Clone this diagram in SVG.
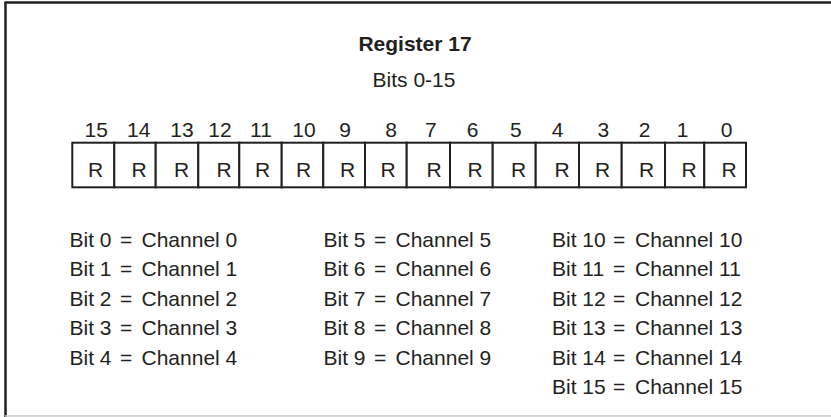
<svg xmlns="http://www.w3.org/2000/svg" width="831" height="417" viewBox="0 0 831 417">
<style>
text{font-family:"Liberation Sans",Arial,Helvetica,sans-serif;fill:#231f20;font-size:21px}
.title{font-weight:bold;text-anchor:middle}
.mid{text-anchor:middle}
.cell{fill:#fff;stroke:#231f20;stroke-width:2}
</style>
<rect x="0" y="0" width="831" height="417" fill="#fff"/>
<g id="frame">
<line x1="4.5" y1="2.5" x2="831" y2="2.5" stroke="#231f20" stroke-width="2.5"/>
<line x1="5.5" y1="2" x2="5.5" y2="417" stroke="#231f20" stroke-width="2.5"/>
<line x1="5" y1="416" x2="831" y2="416" stroke="#cccccc" stroke-width="1.5"/>
</g>
<g id="title">
<text class="title" x="415" y="51">Register 17</text>
<text class="mid" x="414" y="86.5">Bits 0-15</text>
</g>
<g id="register">
<g id="bit15"><rect class="cell" x="72.3" y="142.7" width="42" height="44.6"/><text class="mid" x="96.2" y="137.3">15</text><text class="mid" x="95.5" y="176.7">R</text></g>
<g id="bit14"><rect class="cell" x="114.3" y="142.7" width="41.4" height="44.6"/><text class="mid" x="138.8" y="137.3">14</text><text class="mid" x="139" y="176.7">R</text></g>
<g id="bit13"><rect class="cell" x="155.7" y="142.7" width="42.6" height="44.6"/><text class="mid" x="182" y="137.3">13</text><text class="mid" x="181.7" y="176.7">R</text></g>
<g id="bit12"><rect class="cell" x="198.3" y="142.7" width="41" height="44.6"/><text class="mid" x="220" y="137.3">12</text><text class="mid" x="224" y="176.7">R</text></g>
<g id="bit11"><rect class="cell" x="239.3" y="142.7" width="42.4" height="44.6"/><text class="mid" x="261" y="137.3">11</text><text class="mid" x="262.5" y="176.7">R</text></g>
<g id="bit10"><rect class="cell" x="281.7" y="142.7" width="41.6" height="44.6"/><text class="mid" x="304" y="137.3">10</text><text class="mid" x="303.5" y="176.7">R</text></g>
<g id="bit9"><rect class="cell" x="323.3" y="142.7" width="41.7" height="44.6"/><text class="mid" x="345" y="137.3">9</text><text class="mid" x="347.5" y="176.7">R</text></g>
<g id="bit8"><rect class="cell" x="365" y="142.7" width="41.7" height="44.6"/><text class="mid" x="391" y="137.3">8</text><text class="mid" x="388" y="176.7">R</text></g>
<g id="bit7"><rect class="cell" x="406.7" y="142.7" width="43.3" height="44.6"/><text class="mid" x="430.8" y="137.3">7</text><text class="mid" x="434" y="176.7">R</text></g>
<g id="bit6"><rect class="cell" x="450" y="142.7" width="42.7" height="44.6"/><text class="mid" x="472.5" y="137.3">6</text><text class="mid" x="475" y="176.7">R</text></g>
<g id="bit5"><rect class="cell" x="492.7" y="142.7" width="43" height="44.6"/><text class="mid" x="515.8" y="137.3">5</text><text class="mid" x="518.7" y="176.7">R</text></g>
<g id="bit4"><rect class="cell" x="535.7" y="142.7" width="43.3" height="44.6"/><text class="mid" x="557.5" y="137.3">4</text><text class="mid" x="562" y="176.7">R</text></g>
<g id="bit3"><rect class="cell" x="579" y="142.7" width="42.7" height="44.6"/><text class="mid" x="603.3" y="137.3">3</text><text class="mid" x="602.5" y="176.7">R</text></g>
<g id="bit2"><rect class="cell" x="621.7" y="142.7" width="43.3" height="44.6"/><text class="mid" x="644.7" y="137.3">2</text><text class="mid" x="646.7" y="176.7">R</text></g>
<g id="bit1"><rect class="cell" x="665" y="142.7" width="39.3" height="44.6"/><text class="mid" x="682.5" y="137.3">1</text><text class="mid" x="689.2" y="176.7">R</text></g>
<g id="bit0"><rect class="cell" x="704.3" y="142.7" width="41.7" height="44.6"/><text class="mid" x="726.7" y="137.3">0</text><text class="mid" x="729.2" y="176.7">R</text></g>
</g>
<g id="legend">
<text y="246.5"><tspan x="69.5">Bit 0 </tspan><tspan x="120">= </tspan><tspan x="141.5">Channel 0</tspan></text>
<text y="276"><tspan x="69.5">Bit 1 </tspan><tspan x="120">= </tspan><tspan x="141.5">Channel 1</tspan></text>
<text y="305.5"><tspan x="69.5">Bit 2 </tspan><tspan x="120">= </tspan><tspan x="141.5">Channel 2</tspan></text>
<text y="335"><tspan x="69.5">Bit 3 </tspan><tspan x="120">= </tspan><tspan x="141.5">Channel 3</tspan></text>
<text y="364.5"><tspan x="69.5">Bit 4 </tspan><tspan x="120">= </tspan><tspan x="141.5">Channel 4</tspan></text>
<text y="246.5"><tspan x="323.5">Bit 5 </tspan><tspan x="374">= </tspan><tspan x="395.5">Channel 5</tspan></text>
<text y="276"><tspan x="323.5">Bit 6 </tspan><tspan x="374">= </tspan><tspan x="395.5">Channel 6</tspan></text>
<text y="305.5"><tspan x="323.5">Bit 7 </tspan><tspan x="374">= </tspan><tspan x="395.5">Channel 7</tspan></text>
<text y="335"><tspan x="323.5">Bit 8 </tspan><tspan x="374">= </tspan><tspan x="395.5">Channel 8</tspan></text>
<text y="364.5"><tspan x="323.5">Bit 9 </tspan><tspan x="374">= </tspan><tspan x="395.5">Channel 9</tspan></text>
<text y="246.5"><tspan x="552">Bit 10 </tspan><tspan x="613">= </tspan><tspan x="635">Channel 10</tspan></text>
<text y="276"><tspan x="552">Bit 11 </tspan><tspan x="613">= </tspan><tspan x="635">Channel 11</tspan></text>
<text y="305.5"><tspan x="552">Bit 12 </tspan><tspan x="613">= </tspan><tspan x="635">Channel 12</tspan></text>
<text y="335"><tspan x="552">Bit 13 </tspan><tspan x="613">= </tspan><tspan x="635">Channel 13</tspan></text>
<text y="364.5"><tspan x="552">Bit 14 </tspan><tspan x="613">= </tspan><tspan x="635">Channel 14</tspan></text>
<text y="394"><tspan x="552">Bit 15 </tspan><tspan x="613">= </tspan><tspan x="635">Channel 15</tspan></text>
</g>
</svg>
